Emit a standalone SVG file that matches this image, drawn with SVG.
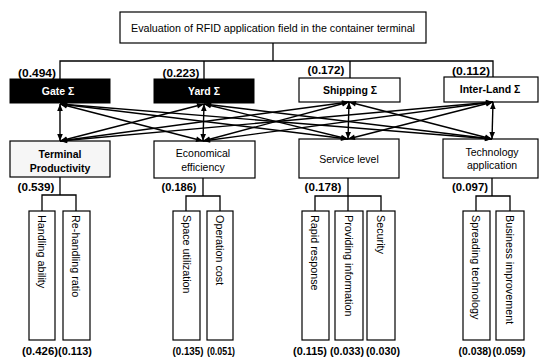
<svg xmlns="http://www.w3.org/2000/svg" width="541" height="357" viewBox="0 0 541 357">
<style>
.box{fill:#fff;stroke:#000;stroke-width:1.2}
.dark{fill:#000;stroke:#000;stroke-width:1}
.ln{fill:none;stroke:#000;stroke-width:1.3}
.cn{fill:none;stroke:#000;stroke-width:1.4;marker-start:url(#ah);marker-end:url(#ah)}
text{font-family:"Liberation Sans",Arial,sans-serif;fill:#000}
.t{font-size:10.5px;text-anchor:middle}
.w{font-size:10.5px;text-anchor:middle;fill:#fff;font-weight:bold}
.b{font-size:10.5px;text-anchor:middle;font-weight:bold}
.n{font-size:10.5px;text-anchor:middle;font-weight:bold}
.v{font-size:10.8px}
</style>
<defs>
<marker id="ah" viewBox="0 0 10 10" refX="10" refY="5" markerWidth="8" markerHeight="7" orient="auto-start-reverse" markerUnits="userSpaceOnUse">
<path d="M0,1 L10,5 L0,9 z" fill="#000"/>
</marker>
</defs>

<g id="root">
<rect class="box" x="120" y="12" width="306" height="31"/>
<text class="t" x="273" y="32" textLength="284" lengthAdjust="spacingAndGlyphs">Evaluation of RFID application field in the container terminal</text>
</g>

<g id="gate">
<rect class="dark" x="10" y="79" width="100" height="24"/>
<text class="w" x="58" y="95">Gate Σ</text>
<text class="n" x="37" y="77" textLength="38" lengthAdjust="spacingAndGlyphs">(0.494)</text>
</g>
<g id="yard">
<rect class="dark" x="154" y="79" width="100" height="24"/>
<text class="w" x="204" y="95">Yard Σ</text>
<text class="n" x="181" y="77" textLength="37" lengthAdjust="spacingAndGlyphs">(0.223)</text>
</g>
<g id="shipping">
<rect class="box" x="299" y="78" width="101" height="24"/>
<text class="b" x="350" y="94">Shipping Σ</text>
<text class="n" x="326" y="74" textLength="37" lengthAdjust="spacingAndGlyphs">(0.172)</text>
</g>
<g id="interland">
<rect class="box" x="444" y="77" width="94" height="25"/>
<text class="b" x="490" y="93">Inter-Land Σ</text>
<text class="n" x="471" y="75" textLength="38" lengthAdjust="spacingAndGlyphs">(0.112)</text>
</g>

<g id="terminal">
<rect class="box" x="10" y="141" width="100" height="36" style="fill:#f6f6f6"/>
<text class="b" x="60" y="158">Terminal</text>
<text class="b" x="60" y="172">Productivity</text>
<text class="n" x="36" y="191" textLength="37" lengthAdjust="spacingAndGlyphs">(0.539)</text>
</g>
<g id="economical">
<rect class="box" x="154" y="141" width="101" height="37"/>
<text class="t" x="203" y="157">Economical</text>
<text class="t" x="203" y="171">efficiency</text>
<text class="n" x="179" y="191" textLength="35" lengthAdjust="spacingAndGlyphs">(0.186)</text>
</g>
<g id="service">
<rect class="box" x="299" y="139" width="100" height="39"/>
<text class="t" x="349" y="163">Service level</text>
<text class="n" x="323" y="191" textLength="37" lengthAdjust="spacingAndGlyphs">(0.178)</text>
</g>
<g id="technology">
<rect class="box" x="443" y="139" width="95" height="39"/>
<text class="t" x="492" y="156">Technology</text>
<text class="t" x="492" y="169">application</text>
<text class="n" x="470" y="191" textLength="36" lengthAdjust="spacingAndGlyphs">(0.097)</text>
</g>

<g id="handling">
<rect class="box" x="29" y="211" width="26" height="129"/>
<text class="v" transform="translate(38,215) rotate(90)">Handling ability</text>
<text class="n" x="40" y="355" textLength="36" lengthAdjust="spacingAndGlyphs">(0.426)</text>
</g>
<g id="rehandling">
<rect class="box" x="63" y="211" width="27" height="129"/>
<text class="v" transform="translate(72,215) rotate(90)">Re-handling ratio</text>
<text class="n" x="75" y="355" textLength="34" lengthAdjust="spacingAndGlyphs">(0.113)</text>
</g>
<g id="space">
<rect class="box" x="173" y="211" width="27" height="129"/>
<text class="v" transform="translate(183,215) rotate(90)">Space utilization</text>
<text class="n" x="188" y="355" textLength="31" lengthAdjust="spacingAndGlyphs">(0.135)</text>
</g>
<g id="operation">
<rect class="box" x="207" y="211" width="26" height="129"/>
<text class="v" transform="translate(216,215) rotate(90)">Operation cost</text>
<text class="n" x="221" y="355" textLength="28" lengthAdjust="spacingAndGlyphs">(0.051)</text>
</g>
<g id="rapid">
<rect class="box" x="302" y="211" width="27" height="129"/>
<text class="v" transform="translate(311,215) rotate(90)">Rapid response</text>
<text class="n" x="310" y="355" textLength="34" lengthAdjust="spacingAndGlyphs">(0.115)</text>
</g>
<g id="providing">
<rect class="box" x="335" y="211" width="28" height="129"/>
<text class="v" transform="translate(345,215) rotate(90)">Providing information</text>
<text class="n" x="347" y="355" textLength="34" lengthAdjust="spacingAndGlyphs">(0.033)</text>
</g>
<g id="security">
<rect class="box" x="367" y="211" width="28" height="129"/>
<text class="v" transform="translate(377,215) rotate(90)">Security</text>
<text class="n" x="383" y="355" textLength="34" lengthAdjust="spacingAndGlyphs">(0.030)</text>
</g>
<g id="spreading">
<rect class="box" x="463" y="211" width="27" height="129"/>
<text class="v" transform="translate(472,215) rotate(90)">Spreading technology</text>
<text class="n" x="475" y="355" textLength="33" lengthAdjust="spacingAndGlyphs">(0.038)</text>
</g>
<g id="business">
<rect class="box" x="496" y="211" width="28" height="129"/>
<text class="v" transform="translate(506,215) rotate(90)">Business improvement</text>
<text class="n" x="509" y="355" textLength="33" lengthAdjust="spacingAndGlyphs">(0.059)</text>
</g>

<g id="connectors">
<path class="ln" d="M273,43 V61 M60,79 V61 H493 V77 M204,61 V79 M350,61 V78"/>
<path class="ln" d="M60,177 V195 M42,211 V195 H76 V211"/>
<path class="ln" d="M203,178 V196 M186,211 V196 H220 V211"/>
<path class="ln" d="M348,178 V211 M315,211 V196 H381 V211"/>
<path class="ln" d="M492,178 V196 M476,211 V196 H510 V211"/>
<line class="cn" x1="60" y1="104" x2="60" y2="141"/>
<line class="cn" x1="60" y1="104" x2="203" y2="141"/>
<line class="cn" x1="60" y1="104" x2="348" y2="139"/>
<line class="cn" x1="60" y1="104" x2="492" y2="139"/>
<line class="cn" x1="204" y1="104" x2="60" y2="141"/>
<line class="cn" x1="204" y1="104" x2="203" y2="141"/>
<line class="cn" x1="204" y1="104" x2="348" y2="139"/>
<line class="cn" x1="204" y1="104" x2="492" y2="139"/>
<line class="cn" x1="349" y1="102" x2="60" y2="141"/>
<line class="cn" x1="349" y1="102" x2="203" y2="141"/>
<line class="cn" x1="349" y1="102" x2="348" y2="139"/>
<line class="cn" x1="349" y1="102" x2="492" y2="139"/>
<line class="cn" x1="493" y1="102" x2="60" y2="141"/>
<line class="cn" x1="493" y1="102" x2="203" y2="141"/>
<line class="cn" x1="493" y1="102" x2="348" y2="139"/>
<line class="cn" x1="493" y1="102" x2="492" y2="139"/>
</g>
</svg>
